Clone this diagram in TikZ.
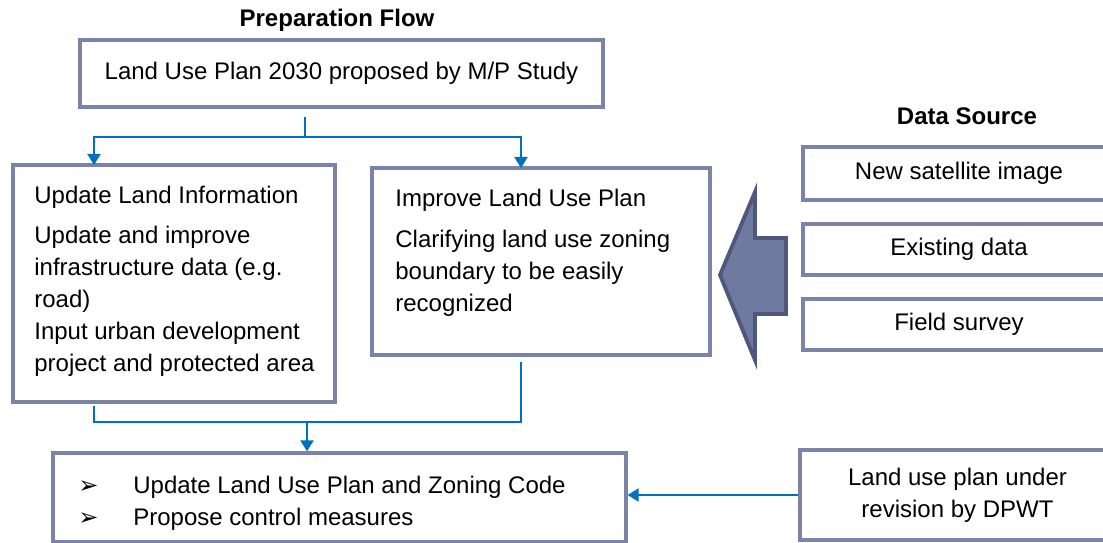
\documentclass[tikz,border=0pt]{standalone}
\usepackage{fontspec}
\setmainfont{Liberation Sans}
\newfontfamily\symfont{DejaVu Sans}
\usetikzlibrary{arrows.meta,positioning,calc}
\definecolor{boxline}{RGB}{122,131,168}
\definecolor{flowblue}{RGB}{0,112,192}
\definecolor{arrowfill}{RGB}{111,122,160}
\definecolor{arrowline}{RGB}{78,88,124}
\newcommand{\bul}{{\symfont\char"27A2}}

\begin{document}
\begin{tikzpicture}[x=0.02cm,y=-0.02cm,>={Triangle[length=2.2mm,width=2.6mm]},
  box/.style={draw=boxline,line width=1.9pt,fill=white,inner sep=0pt},
  flow/.style={draw=flowblue,line width=1.2pt},
  txt/.style={font=\fontsize{13.66}{18.2}\selectfont}]
\clip (0,0) rectangle (1103,543);
% preparation flow
\node[txt] (ttl) at (337,20) {\bfseries Preparation Flow};
\node[box,txt,minimum width=10.46cm,minimum height=1.34cm] (top) at (341.5,73.5) {Land Use Plan 2030 proposed by M/P Study};
\node[box,minimum width=6.44cm,minimum height=4.74cm] (lbox) at (174,283.5) {};
\node[txt,align=left,anchor=north west,inner sep=0pt] (ltxt) at (34,186) {Update Land Information\\[4.6pt]
  Update and improve\\ infrastructure data (e.g.\\ road)\\ Input urban development\\ project and protected area};
\node[box,minimum width=6.76cm,minimum height=3.74cm] (rbox) at (541,261.5) {};
\node[txt,align=left,anchor=north west,inner sep=0pt] (rtxt) at (395,189) {Improve Land Use Plan\\[5pt]
  Clarifying land use zoning\\ boundary to be easily\\ recognized};
\node[box,minimum width=11.46cm,minimum height=1.78cm] (bbox) at (339.5,497.5) {};
\node[txt,align=left,anchor=north west,inner sep=0pt] (btxt) at (78,476) {\makebox[1.1cm][l]{\bul}Update Land Use Plan and Zoning Code\\
  \makebox[1.1cm][l]{\bul}Propose control measures};
% data source
\node[txt] (dsrc) at (967,116) {\bfseries Data Source};
\node[box,txt,minimum width=6.24cm,minimum height=1.06cm] (sat) at (959,173.5) {New satellite image};
\node[box,txt,minimum width=6.24cm,minimum height=1.02cm] (exist) at (959,249.5) {Existing data};
\node[box,txt,minimum width=6.24cm,minimum height=1.02cm] (field) at (959,324.5) {Field survey};
\node[box,txt,align=center,minimum width=6.3cm,minimum height=1.8cm] (dpwt) at (957.5,495) {Land use plan under\\ revision by DPWT};
\filldraw[fill=arrowfill,draw=arrowline,line width=2.2pt] (720,275) -- (755,192) -- (755,238) -- (786,238)
  -- (786,314) -- (755,314) -- (755,360) -- cycle;
% connectors
\coordinate (split) at (305,137);
\coordinate (lin) at (94,165);
\coordinate (rin) at (521,168);
\coordinate (lout) at (94,402);
\coordinate (rout) at (521,355);
\coordinate (merge) at (307,422);
\draw[flow,shorten <=0.16cm] (split |- top.south) -- (split);
\draw[flow,->] (split) -| (lin);
\draw[flow,->] (split) -| (rin);
\draw[flow,shorten <=0.08cm] (lout) |- (merge);
\draw[flow,shorten <=0.14cm] (rout) |- (merge);
\draw[flow,->] (merge) -- (merge |- bbox.north);
\draw[flow,->] (dpwt.west) -- (dpwt.west -| bbox.east);
\end{tikzpicture}
\end{document}
